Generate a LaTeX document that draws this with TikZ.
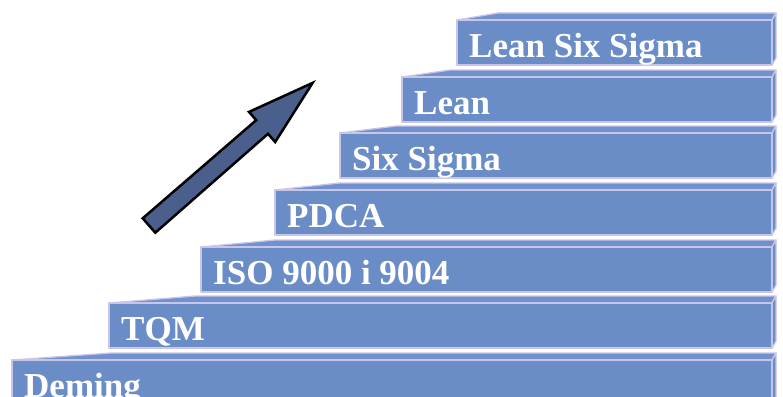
\documentclass[tikz,border=0pt]{standalone}
\usepackage{fontspec}
\setmainfont{Liberation Serif}
\definecolor{stepblue}{RGB}{106,140,199}
\definecolor{topblue}{RGB}{112,145,203}
\definecolor{edgecol}{RGB}{200,198,232}
\definecolor{arrowblue}{RGB}{74,95,140}
\tikzset{
  face/.style={fill=stepblue, draw=edgecol, line width=1.3pt, line join=round},
  topface/.style={fill=topblue, draw=edgecol, line width=1.3pt, line join=round},
  lbl/.style={text=white, font=\fontsize{35}{35}\selectfont\bfseries, anchor=base west, inner sep=0pt},
  bigarrow/.style={fill=arrowblue, draw=black, line width=2.5pt, line join=miter}
}
\begin{document}
\begin{tikzpicture}[x=1pt,y=-1pt]
\useasboundingbox (0,0) rectangle (783,396);
\clip (0,0) rectangle (783,396);
\foreach \x/\t/\txt/\nm in {457/20/Lean Six Sigma/lss, 402/77/Lean/lean, 340/133/Six Sigma/six, 275/190/PDCA/pdca, 201/247/ISO 9000 i 9004/iso, 109/303/TQM/tqm, 12/360/Deming/dem}{
  \pgfmathsetmacro\sl{\x+0.13*(772-\x)}
  \pgfmathsetmacro\b{\t+45}
  \draw[topface] (\x,\t) -- (\sl,\t-7) -- (776,\t-7) -- (772,\t) -- cycle;
  \draw[face] (772,\t) -- (776,\t-7) -- (776,\b-7) -- (772,\b) -- cycle;
  \draw[face] (\x,\t) rectangle (772,\b);
  \node[lbl] (\nm) at (\x+12,\t+37) {\txt};
}
\draw[bigarrow] (142.7,218.3) -- (256.2,120.2) -- (249.0,111.9) -- (312.6,82.9)
  -- (275.2,142.0) -- (268.0,133.8) -- (155.3,232.7) -- cycle;
\end{tikzpicture}
\end{document}
